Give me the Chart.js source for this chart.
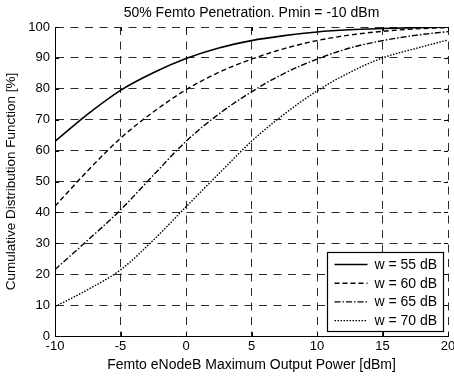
<!DOCTYPE html>
<html>
<head>
<meta charset="utf-8">
<script src="https://cdn.jsdelivr.net/npm/chart.js@4.4.1/dist/chart.umd.min.js"></script>
<style>
  html, body { margin: 0; padding: 0; background: #fff; }
  #wrap { width: 454px; height: 376px; }
</style>
</head>
<body>
<div id="wrap"><canvas id="cdf" width="454" height="376"></canvas></div>
<script>
// Femto eNodeB maximum output power [dBm]
const powers = [-10, -7.5, -5, -2.5, 0, 2.5, 5, 7.5, 10, 12.5, 15, 17.5, 20];

// CDF [%] for each wall-loss value w
const cdfW55 = [63, 71.8, 79.5, 85.2, 89.8, 93.2, 95.6, 97.2, 98.4, 99.1, 99.5, 99.8, 100];
const cdfW60 = [42, 53.5, 64, 72.5, 79.7, 85.3, 89.6, 93, 95.6, 97.4, 98.6, 99.4, 99.8];
const cdfW65 = [21.5, 31, 40.8, 52, 63, 71.8, 79, 85, 89.6, 93.2, 95.6, 97.3, 98.5];
const cdfW70 = [9.5, 15, 21.4, 31, 41.8, 52.5, 63, 71.8, 79.3, 85.3, 90, 93, 95.8];

const seriesLabels = ['w = 55 dB', 'w = 60 dB', 'w = 65 dB', 'w = 70 dB'];
const xTicks = [-10, -5, 0, 5, 10, 15, 20];
const yTicks = [0, 10, 20, 30, 40, 50, 60, 70, 80, 90, 100];

const chartTitle = '50% Femto Penetration. Pmin = -10 dBm';
const xTitle = 'Femto eNodeB Maximum Output Power [dBm]';
const yTitle = 'Cumulative Distribution Function [%]';

const FONT = '"Liberation Sans", Arial, Helvetica, sans-serif';
const dashes = [[], [5, 3], [6, 2, 1.5, 2], [1.5, 1.5]];

function series(values, i) {
  return {
    label: seriesLabels[i],
    data: powers.map((p, k) => ({ x: p, y: values[k] })),
    borderColor: '#000',
    borderWidth: i === 0 ? 1.6 : 1.4,
    borderDash: dashes[i],
    pointRadius: 0,
    fill: false,
    cubicInterpolationMode: 'monotone'
  };
}

// Title centred over the plot area
const titlePlugin = {
  id: 'plotTitle',
  afterDraw(chart) {
    const { ctx, chartArea } = chart;
    ctx.save();
    ctx.font = '14px ' + FONT;
    ctx.fillStyle = '#000';
    ctx.textAlign = 'center';
    ctx.textBaseline = 'middle';
    ctx.fillText(chartTitle, (chartArea.left + chartArea.right) / 2, 13.5);
    ctx.restore();
  }
};

// Small inward tick marks on all four sides
const innerTicks = {
  id: 'innerTicks',
  afterDatasetsDraw(chart) {
    const { ctx, chartArea: a, scales } = chart;
    const len = 4;
    ctx.save();
    ctx.strokeStyle = '#000';
    ctx.lineWidth = 1;
    ctx.beginPath();
    xTicks.forEach(v => {
      const px = Math.round(scales.x.getPixelForValue(v)) + 0.5;
      ctx.moveTo(px, a.bottom); ctx.lineTo(px, a.bottom - len);
      ctx.moveTo(px, a.top); ctx.lineTo(px, a.top + len);
    });
    yTicks.forEach(v => {
      const py = Math.round(scales.y.getPixelForValue(v)) + 0.5;
      ctx.moveTo(a.left, py); ctx.lineTo(a.left + len, py);
      ctx.moveTo(a.right, py); ctx.lineTo(a.right - len, py);
    });
    ctx.stroke();
    ctx.restore();
  }
};

// Boxed legend in the lower-right corner of the plot
const boxLegend = {
  id: 'boxLegend',
  afterDatasetsDraw(chart) {
    const { ctx, chartArea: a } = chart;
    const w = 116, h = 79;
    const x0 = Math.round(a.right - 5 - w) + 0.5;
    const y0 = Math.round(a.bottom - 5 - h) + 0.5;
    ctx.save();
    ctx.fillStyle = '#fff';
    ctx.fillRect(x0, y0, w, h);
    ctx.strokeStyle = '#000';
    ctx.lineWidth = 1.2;
    ctx.strokeRect(x0, y0, w, h);
    ctx.font = '14px ' + FONT;
    ctx.textBaseline = 'middle';
    ctx.fillStyle = '#000';
    chart.data.datasets.forEach((ds, i) => {
      const cy = y0 + 12 + i * 18.7;
      ctx.beginPath();
      ctx.setLineDash(ds.borderDash);
      ctx.lineWidth = ds.borderWidth;
      ctx.moveTo(x0 + 7, cy);
      ctx.lineTo(x0 + 40, cy);
      ctx.stroke();
      ctx.setLineDash([]);
      ctx.fillText(ds.label, x0 + 47, cy + 0.5);
    });
    ctx.restore();
  }
};

new Chart(document.getElementById('cdf'), {
  type: 'line',
  data: {
    datasets: [series(cdfW55, 0), series(cdfW60, 1), series(cdfW65, 2), series(cdfW70, 3)]
  },
  options: {
    responsive: false,
    animation: false,
    layout: { padding: { top: 27, right: 6, left: 0, bottom: 0 } },
    plugins: {
      legend: { display: false },
      title: { display: false },
      tooltip: { enabled: false }
    },
    scales: {
      x: {
        type: 'linear',
        min: -10,
        max: 20,
        afterBuildTicks(scale) { scale.ticks = xTicks.map(v => ({ value: v })); },
        afterFit(scale) {
          scale.height = 40;
          // let the end labels overhang the plot edges
          scale.paddingLeft = 0;
          scale.paddingRight = 0;
        },
        ticks: { color: '#000', font: { family: FONT, size: 13 }, padding: 3, maxRotation: 0 },
        grid: { color: '#2a2a2a', lineWidth: 1, drawTicks: false },
        border: { display: true, color: '#000', width: 1, dash: [8, 6.5] },
        title: {
          display: true, text: xTitle, color: '#000',
          font: { family: FONT, size: 14 }, padding: { top: 0, bottom: 2 }
        }
      },
      y: {
        min: 0,
        max: 100,
        afterBuildTicks(scale) { scale.ticks = yTicks.map(v => ({ value: v })); },
        afterFit(scale) {
          scale.width = 55;
          scale.paddingTop = 0;
          scale.paddingBottom = 0;
        },
        ticks: { color: '#000', font: { family: FONT, size: 13 }, padding: 5 },
        grid: { color: '#2a2a2a', lineWidth: 1, drawTicks: false },
        border: { display: true, color: '#000', width: 1, dash: [8, 6.5] },
        title: {
          display: true, text: yTitle, color: '#000',
          font: { family: FONT, size: 13.5 }, padding: { top: 3, bottom: 0 }
        }
      }
    }
  },
  plugins: [titlePlugin, innerTicks, boxLegend]
});
</script>
</body>
</html>
